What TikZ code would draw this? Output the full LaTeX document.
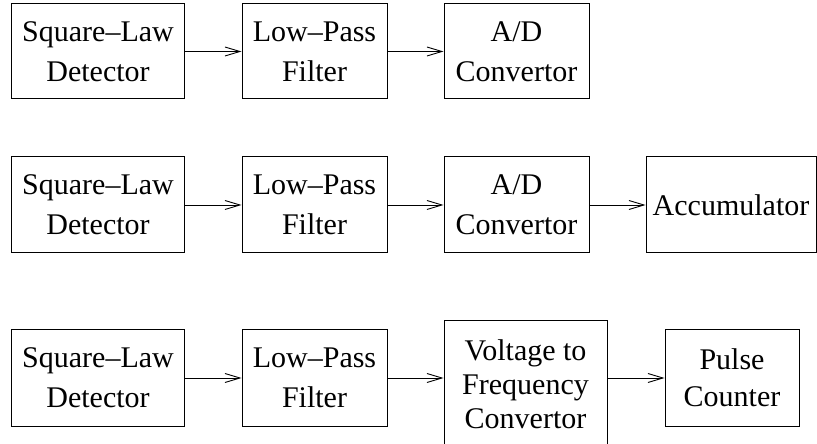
\documentclass[tikz,border=0pt]{standalone}
\usepackage{fontspec}
\setmainfont{Liberation Serif}
\usetikzlibrary{arrows.meta}
\begin{document}
\begin{tikzpicture}[x=1bp,y=-1bp,
  blk/.style={draw=black, line width=1bp, inner sep=0pt, align=center,
    font=\fontsize{30bp}{40bp}\selectfont},
  arr/.style={draw=black, line width=0.9bp,
    -{Straight Barb[length=15bp,width=9bp,line width=0.9bp]}}]
\useasboundingbox (0,0) rectangle (817,444);
% Row 1
\node[blk, minimum width=172bp, minimum height=95bp] (r1a) at (98,51.5) {Square–Law\\Detector};
\node[blk, minimum width=145bp, minimum height=95bp] (r1b) at (314.5,51.5) {Low–Pass\\Filter};
\node[blk, minimum width=145bp, minimum height=95bp] (r1c) at (516.5,51.5) {A/D\\Convertor};
\draw[arr] (r1a) -- (r1b);
\draw[arr] (r1b) -- (r1c);
% Row 2
\node[blk, minimum width=172bp, minimum height=96bp] (r2a) at (98,205) {Square–Law\\Detector};
\node[blk, minimum width=145bp, minimum height=96bp] (r2b) at (314.5,205) {Low–Pass\\Filter};
\node[blk, minimum width=145bp, minimum height=96bp] (r2c) at (516.5,205) {A/D\\Convertor};
\node[blk, minimum width=170bp, minimum height=96bp] (r2d) at (731,205) {Accumulator};
\draw[arr] (r2a) -- (r2b);
\draw[arr] (r2b) -- (r2c);
\draw[arr] (r2c) -- (r2d);
% Row 3
\node[blk, minimum width=172bp, minimum height=96bp] (r3a) at (98,378) {Square–Law\\Detector};
\node[blk, minimum width=145bp, minimum height=96bp] (r3b) at (314.5,378) {Low–Pass\\Filter};
\node[blk, minimum width=163bp, minimum height=126bp, font=\fontsize{30bp}{34bp}\selectfont] (r3c) at (525.5,384) {Voltage to\\Frequency\\Convertor};
\node[blk, minimum width=134bp, minimum height=96bp, font=\fontsize{30bp}{37bp}\selectfont] (r3d) at (732,378) {Pulse\\Counter};
\draw[arr] (r3a) -- (r3b);
\draw[arr] (r3b.east) -- (r3c.west |- r3b.east);
\draw[arr] (r3c.east |- r3d.west) -- (r3d.west);
\end{tikzpicture}
\end{document}
